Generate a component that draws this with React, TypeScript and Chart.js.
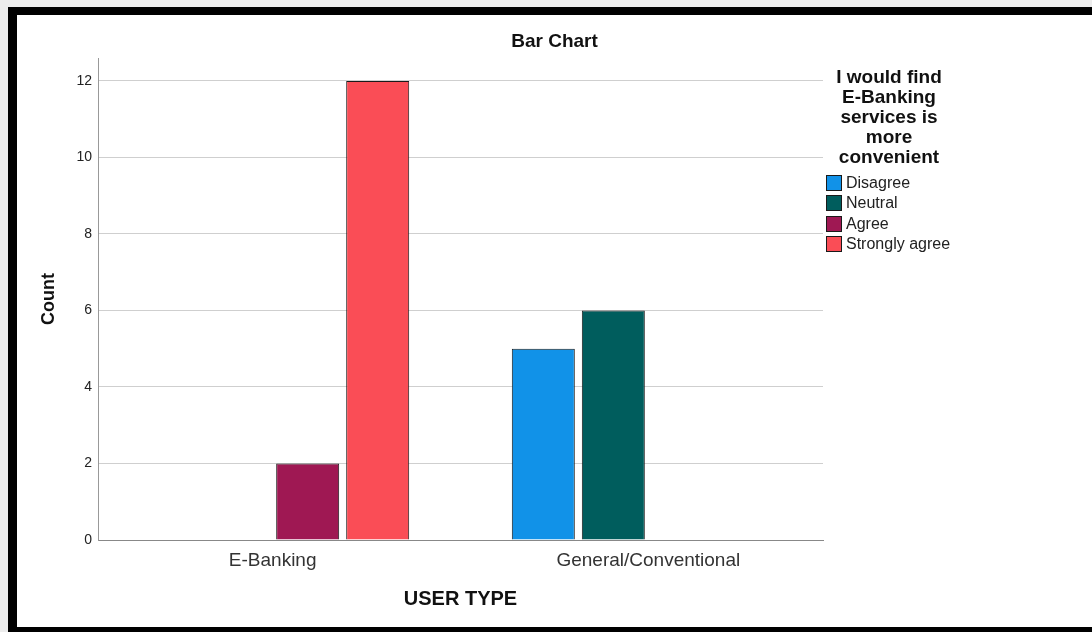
import React, { useEffect, useRef } from 'react';
import { Chart, registerables } from 'chart.js';

Chart.register(...registerables);

// ---- data ----
const categories = ['E-Banking', 'General/Conventional'];
const seriesLabels = ['Disagree', 'Neutral', 'Agree', 'Strongly agree'];
const disagree = [0, 5];
const neutral = [0, 6];
const agree = [2, 0];
const stronglyAgree = [12, 0];
const yTicks = [0, 2, 4, 6, 8, 10, 12];
const chartTitle = 'Bar Chart';
const xTitle = 'USER TYPE';
const yTitle = 'Count';
const legendTitleLines = ['I would find', 'E-Banking', 'services is', 'more', 'convenient'];

const seriesColors = ['#1192e8', '#005d5d', '#9f1853', '#fa4d56'];
const FONT = "'Liberation Sans', Arial, sans-serif";

const centeredTitle = {
  id: 'centeredTitle',
  afterDraw(chart: any) {
    const ctx = chart.ctx as CanvasRenderingContext2D;
    ctx.save();
    ctx.font = `bold 19px ${FONT}`;
    ctx.fillStyle = '#111';
    ctx.textAlign = 'center';
    ctx.textBaseline = 'middle';
    ctx.fillText(chartTitle, chart.width / 2, 27);
    ctx.restore();
  },
};

const sideLegend = {
  id: 'sideLegend',
  afterDraw(chart: any) {
    const ctx = chart.ctx as CanvasRenderingContext2D;
    const area = chart.chartArea;
    ctx.save();
    ctx.font = `bold 19px ${FONT}`;
    ctx.fillStyle = '#111';
    ctx.textAlign = 'center';
    ctx.textBaseline = 'middle';
    const cx = area.right + 66;
    legendTitleLines.forEach((line, i) => {
      ctx.fillText(line, cx, area.top + 20 + i * 20);
    });
    chart.data.datasets.forEach((ds: any, i: number) => {
      const y = Math.round(area.top + 117 + i * 20.3) + 0.5;
      const x = area.right + 3.5;
      ctx.fillStyle = ds.backgroundColor;
      ctx.fillRect(x, y, 15, 15);
      ctx.strokeStyle = '#1a1a1a';
      ctx.lineWidth = 1;
      ctx.strokeRect(x, y, 15, 15);
      ctx.font = `16px ${FONT}`;
      ctx.textAlign = 'left';
      ctx.fillStyle = '#222';
      ctx.fillText(ds.label, area.right + 23, y + 8.5);
    });
    ctx.restore();
  },
};

export default function App() {
  const canvasRef = useRef<HTMLCanvasElement | null>(null);

  useEffect(() => {
    if (!canvasRef.current) return;
    const seriesValues = [disagree, neutral, agree, stronglyAgree];
    const chart = new Chart(canvasRef.current, {
      type: 'bar',
      data: {
        datasets: seriesLabels.map((label, s) => ({
          label,
          data: categories.map((_, i) => ({ x: i, y: seriesValues[s][i] })),
          backgroundColor: seriesColors[s],
          borderColor: '#1a1a1a',
          borderWidth: 1,
          categoryPercentage: 0.7455,
          barPercentage: 0.9,
        })),
      },
      options: {
        responsive: false,
        animation: false,
        devicePixelRatio: 1,
        layout: { padding: { left: 10, right: 269, top: 43, bottom: 0 } },
        plugins: {
          legend: { display: false },
          tooltip: { enabled: false },
          title: { display: false },
        },
        scales: {
          x: {
            type: 'linear',
            min: -0.465,
            max: 1.465,
            offset: false,
            grid: { display: false, drawTicks: false },
            border: { display: true, color: '#888', width: 1 },
            ticks: {
              padding: 9,
              autoSkip: false,
              maxRotation: 0,
              color: '#333',
              font: { family: FONT, size: 19 },
              callback: (v: any) => categories[v as number] ?? '',
            },
            afterBuildTicks: (scale: any) => {
              scale.ticks = categories.map((_, i) => ({ value: i }));
            },
            afterFit: (scale: any) => {
              scale.height = 87;
            },
            title: {
              display: true,
              text: xTitle,
              color: '#111',
              font: { family: FONT, size: 20, weight: 'bold' },
              padding: { top: 0, bottom: 15.5 },
            },
          },
          y: {
            type: 'linear',
            min: 0,
            max: 12.6,
            grid: { color: '#cfcfcf', lineWidth: 1, drawTicks: false },
            border: { display: true, color: '#999', width: 1 },
            ticks: {
              padding: 6,
              color: '#222',
              font: { family: FONT, size: 14 },
            },
            afterBuildTicks: (scale: any) => {
              scale.ticks = yTicks.map((v) => ({ value: v }));
            },
            afterFit: (scale: any) => {
              scale.width = 71;
            },
            title: {
              display: true,
              text: yTitle,
              color: '#111',
              font: { family: FONT, size: 18, weight: 'bold' },
              padding: { top: 11, bottom: 0 },
            },
          },
        },
      } as any,
      plugins: [centeredTitle, sideLegend],
    });
    return () => chart.destroy();
  }, []);

  return (
    <div
      style={{
        position: 'absolute',
        left: 0,
        top: 0,
        width: 1092,
        height: 632,
        overflow: 'hidden',
        background: '#ececec',
      }}
    >
      <div style={{ position: 'absolute', left: 8, top: 7, width: 1200, height: 700, background: '#000' }} />
      <div style={{ position: 'absolute', left: 17, top: 15, width: 1200, height: 612, background: '#fff' }} />
      <canvas
        ref={canvasRef}
        width={1075}
        height={612}
        style={{ position: 'absolute', left: 17, top: 15, width: 1075, height: 612 }}
      />
    </div>
  );
}
